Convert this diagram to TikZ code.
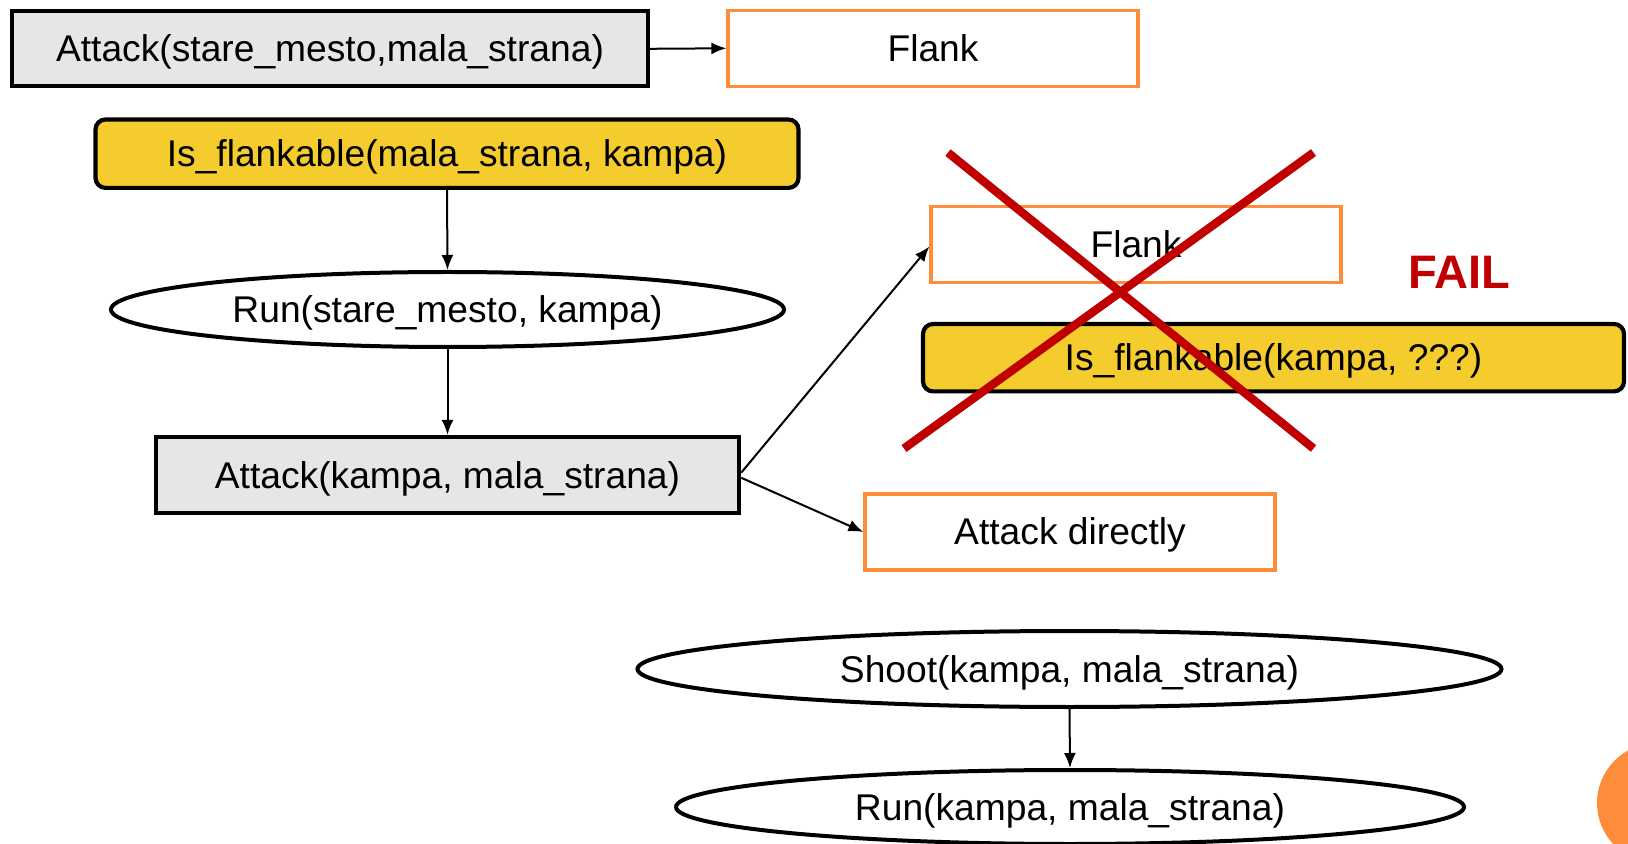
\documentclass[tikz,border=0pt]{standalone}
\usepackage{fontspec}
\setmainfont{Liberation Sans}
\usetikzlibrary{shapes.geometric,arrows.meta}
\definecolor{boxgray}{HTML}{E6E6E8}
\definecolor{boxyellow}{HTML}{F4CC2E}
\definecolor{boxorange}{HTML}{FF8C3A}
\definecolor{failred}{HTML}{C00000}
\begin{document}
\begin{tikzpicture}[x=0.5pt,y=-0.5pt,
  every node/.style={font=\fontsize{18.6}{21}\selectfont, inner sep=0pt, anchor=center, text height=13pt, text depth=0pt},
  graybox/.style={draw=black, line width=2.1pt, fill=boxgray},
  yellowbox/.style={draw=black, line width=2.1pt, fill=boxyellow, rounded corners=5pt},
  orangebox/.style={draw=boxorange, line width=1.6pt, fill=white},
  ovalnode/.style={ellipse, draw=black, line width=2pt, fill=white},
  link/.style={line width=1pt, -{Latex[length=7.5pt,width=6pt]}},
  crossline/.style={draw=failred, line width=4.2pt}
]
\useasboundingbox (0,0) rectangle (1628,844);
\fill[boxorange] (1657,803) circle[radius=30pt];

\node[graybox, minimum width=318pt, minimum height=37.4pt] (A1) at (330,48.8) {Attack(stare\_mesto,mala\_strana)};
\node[orangebox, minimum width=205pt, minimum height=37.9pt] (F1) at (933,48.3) {Flank};
\node[yellowbox, minimum width=351.5pt, minimum height=34.2pt] (IF1) at (447,153.7) {Is\_flankable(mala\_strana, kampa)};
\node[ovalnode, minimum width=336.5pt, minimum height=37.5pt] (R1) at (447.5,309.5) {Run(stare\_mesto, kampa)};
\node[graybox, minimum width=291.7pt, minimum height=38pt] (A2) at (447.5,475) {Attack(kampa, mala\_strana)};
\node[orangebox, minimum width=205pt, minimum height=37.9pt] (F2) at (1136,244.5) {Flank};
\node[yellowbox, minimum width=350.5pt, minimum height=33.7pt] (IF2) at (1273.5,357.7) {Is\_flankable(kampa, ???)};
\node[orangebox, minimum width=205pt, minimum height=38pt] (AD) at (1070,532) {Attack directly};
\node[ovalnode, minimum width=432pt, minimum height=38pt] (S) at (1069.5,669) {Shoot(kampa, mala\_strana)};
\node[ovalnode, minimum width=394pt, minimum height=37pt] (R2) at (1070,807) {Run(kampa, mala\_strana)};
\node[font=\fontsize{23.5}{26}\bfseries\selectfont, text=failred, text height=17pt] (FAIL) at (1459,272) {FAIL};

\coordinate (X1a) at (948,152.6);
\coordinate (X1b) at (1313.5,448.5);
\coordinate (X2a) at (1313.5,152.6);
\coordinate (X2b) at (904,448.5);
\draw[crossline] (X1a) -- (X1b);
\draw[crossline] (X2a) -- (X2b);

\draw[link] (A1.east) -- (F1.west);
\draw[link] (IF1.south) -- (R1.north);
\draw[link] (R1.south) -- (A2.north);
\draw[link] ([yshift=1.2pt]A2.east) -- ([yshift=-1pt]F2.west);
\draw[link] ([yshift=-1.4pt]A2.east) -- (AD.west);
\draw[link] (S.south) -- (R2.north);
\end{tikzpicture}
\end{document}
